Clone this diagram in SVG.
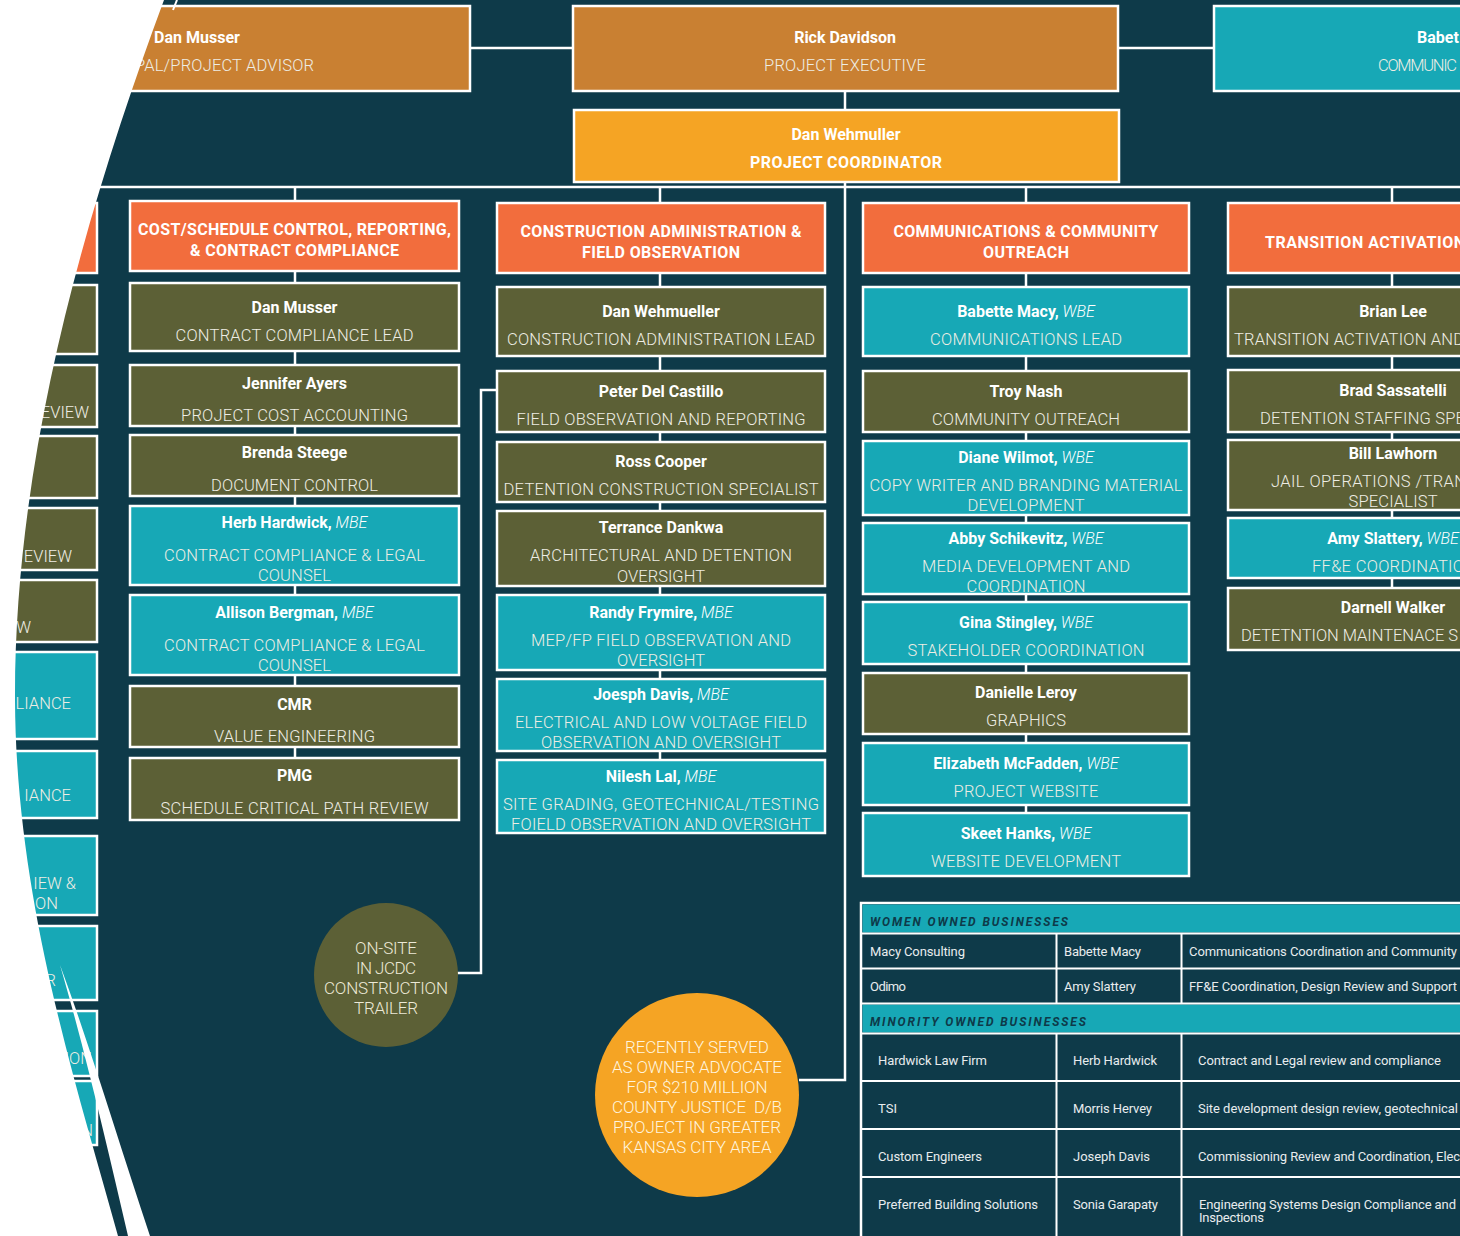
<svg xmlns="http://www.w3.org/2000/svg" width="1460" height="1236" viewBox="0 0 1460 1236">
<style>
.bg{fill:#0E3A49}
.box{stroke:#FFFFFF;stroke-width:2.5}
.olive{fill:#5C6036}
.teal{fill:#17A8B6}
.coral{fill:#F26D3D}
.amber{fill:#F5A424}
.copper{fill:#C98032}
text{font-family:Roboto,"Liberation Sans",sans-serif}
.nm{font-weight:700;font-size:16px;fill:#FFFFFF;text-anchor:middle}
.nms{font-weight:700;font-size:16px;fill:#FFFFFF}
.q{font-weight:300;font-style:italic}
.tt{font-weight:300;font-size:16.5px;fill:#EEEDE4;text-anchor:middle}
.tts{font-weight:300;font-size:16.5px;fill:#EEEDE4}
.tte{font-weight:300;font-size:16.5px;fill:#EEEDE4;text-anchor:end}
.hd{font-weight:700;font-size:16px;fill:#FFFFFF;text-anchor:middle}
.conn{stroke:#FFFFFF;stroke-width:2.5;fill:none}
.ct{font-weight:300;font-size:17px;text-anchor:middle}
.tb{font-weight:400;font-size:13px;fill:#E8ECEE}
.tbh{font-weight:700;font-style:italic;font-size:12px;fill:#0E3A49;letter-spacing:2px}
.grid{stroke:#FFFFFF;stroke-width:2;fill:none}
</style>
<rect class="bg" x="0" y="0" width="1460" height="1236"/>

<g id="connectors">
<line class="conn" x1="470" y1="48" x2="573" y2="48"/>
<line class="conn" x1="1118" y1="48" x2="1214" y2="48"/>
<line class="conn" x1="845" y1="92" x2="845" y2="110"/>
<line class="conn" x1="0" y1="187" x2="1460" y2="187"/>
<polyline class="conn" points="845,182 845,1080 799,1080"/>
<line class="conn" x1="295" y1="187" x2="295" y2="758"/>
<line class="conn" x1="660" y1="187" x2="660" y2="760"/>
<line class="conn" x1="1026" y1="187" x2="1026" y2="813"/>
<line class="conn" x1="1392" y1="187" x2="1392" y2="588"/>
<polyline class="conn" points="457,973 481,973 481,390 497,390"/>
</g>

<g id="top-musser"><rect class="box copper" x="-80" y="6" width="550" height="85"/><text class="nm" x="197" y="43">Dan Musser</text><text class="tte" x="314" y="71" textLength="179">PAL/PROJECT ADVISOR</text></g>
<g id="top-davidson"><rect class="box copper" x="573" y="6" width="545" height="85"/><text class="nm" x="845" y="43">Rick Davidson</text><text class="tt" x="845" y="71" textLength="162">PROJECT EXECUTIVE</text></g>
<g id="top-macy"><rect class="box teal" x="1214" y="6" width="400" height="85"/><text class="nms" x="1417" y="43">Babet</text><text class="tts" x="1378" y="71" textLength="79">COMMUNIC</text></g>
<g id="coordinator"><rect class="box amber" x="574" y="110" width="545" height="72"/><text class="nm" x="846" y="140">Dan Wehmuller</text><text class="hd" x="846" y="168" textLength="192">PROJECT COORDINATOR</text></g>

<g id="col0">
<rect class="box coral" x="-240" y="203" width="337" height="70"/>
<rect class="box olive" x="-240" y="285" width="337" height="69"/>
<rect class="box olive" x="-240" y="365" width="337" height="62"/><text class="tte" x="89" y="418">EVIEW</text>
<rect class="box olive" x="-240" y="436" width="337" height="62"/>
<rect class="box olive" x="-240" y="508" width="337" height="62"/><text class="tte" x="72" y="562">EVIEW</text>
<rect class="box olive" x="-240" y="580" width="337" height="62"/><text class="tte" x="31" y="633">W</text>
<rect class="box teal" x="-240" y="652" width="337" height="87"/><text class="tte" x="71" y="709">LIANCE</text>
<rect class="box teal" x="-240" y="751" width="337" height="67"/><text class="tte" x="71" y="801">IANCE</text>
<rect class="box teal" x="-240" y="836" width="337" height="79"/><text class="tte" x="76" y="889">IEW &amp;</text><text class="tte" x="58" y="909">ON</text>
<rect class="box teal" x="-240" y="926" width="337" height="74"/><text class="tte" x="56" y="986">R</text>
<rect class="box teal" x="-240" y="1011" width="337" height="65"/><text class="tte" x="92" y="1064">ION</text>
<rect class="box teal" x="-240" y="1081" width="337" height="64"/><text class="tte" x="93" y="1136">N</text>
</g>

<g id="h-cost"><rect class="box coral" x="130" y="201" width="329" height="70"/><text class="hd" x="294.5" y="235" textLength="313">COST/SCHEDULE CONTROL, REPORTING,</text><text class="hd" x="294.5" y="256" textLength="209">&amp; CONTRACT COMPLIANCE</text></g>
<g id="c1-musser"><rect class="box olive" x="130" y="283" width="329" height="68"/><text class="nm" x="294.5" y="313">Dan Musser</text><text class="tt" x="294.5" y="341" textLength="238">CONTRACT COMPLIANCE LEAD</text></g>
<g id="c1-ayers"><rect class="box olive" x="130" y="365" width="329" height="61"/><text class="nm" x="294.5" y="389">Jennifer Ayers</text><text class="tt" x="294.5" y="421" textLength="227">PROJECT COST ACCOUNTING</text></g>
<g id="c1-steege"><rect class="box olive" x="130" y="435" width="329" height="61"/><text class="nm" x="294.5" y="458">Brenda Steege</text><text class="tt" x="294.5" y="491" textLength="167">DOCUMENT CONTROL</text></g>
<g id="c1-hardwick"><rect class="box teal" x="130" y="506" width="329" height="79"/><text class="nm" x="294.5" y="528">Herb Hardwick,<tspan class="q"> MBE</tspan></text><text class="tt" x="294.5" y="561" textLength="261">CONTRACT COMPLIANCE &amp; LEGAL</text><text class="tt" x="294.5" y="581" textLength="73">COUNSEL</text></g>
<g id="c1-bergman"><rect class="box teal" x="130" y="595" width="329" height="80"/><text class="nm" x="294.5" y="618">Allison Bergman,<tspan class="q"> MBE</tspan></text><text class="tt" x="294.5" y="651" textLength="261">CONTRACT COMPLIANCE &amp; LEGAL</text><text class="tt" x="294.5" y="671" textLength="73">COUNSEL</text></g>
<g id="c1-cmr"><rect class="box olive" x="130" y="686" width="329" height="61"/><text class="nm" x="294.5" y="710">CMR</text><text class="tt" x="294.5" y="742" textLength="161">VALUE ENGINEERING</text></g>
<g id="c1-pmg"><rect class="box olive" x="130" y="758" width="329" height="62"/><text class="nm" x="294.5" y="781">PMG</text><text class="tt" x="294.5" y="814" textLength="268">SCHEDULE CRITICAL PATH REVIEW</text></g>

<g id="h-construction"><rect class="box coral" x="497" y="203" width="328" height="70"/><text class="hd" x="661" y="237" textLength="281">CONSTRUCTION ADMINISTRATION &amp;</text><text class="hd" x="661" y="258" textLength="158">FIELD OBSERVATION</text></g>
<g id="c2-wehmueller"><rect class="box olive" x="497" y="287" width="328" height="69"/><text class="nm" x="661" y="317">Dan Wehmueller</text><text class="tt" x="661" y="345" textLength="308">CONSTRUCTION ADMINISTRATION LEAD</text></g>
<g id="c2-castillo"><rect class="box olive" x="497" y="371" width="328" height="61"/><text class="nm" x="661" y="397">Peter Del Castillo</text><text class="tt" x="661" y="425" textLength="289">FIELD OBSERVATION AND REPORTING</text></g>
<g id="c2-cooper"><rect class="box olive" x="497" y="442" width="328" height="60"/><text class="nm" x="661" y="467">Ross Cooper</text><text class="tt" x="661" y="495" textLength="315">DETENTION CONSTRUCTION SPECIALIST</text></g>
<g id="c2-dankwa"><rect class="box olive" x="497" y="511" width="328" height="75"/><text class="nm" x="661" y="533">Terrance Dankwa</text><text class="tt" x="661" y="561" textLength="262">ARCHITECTURAL AND DETENTION</text><text class="tt" x="661" y="582" textLength="88">OVERSIGHT</text></g>
<g id="c2-frymire"><rect class="box teal" x="497" y="595" width="328" height="75"/><text class="nm" x="661" y="618">Randy Frymire,<tspan class="q"> MBE</tspan></text><text class="tt" x="661" y="646" textLength="260">MEP/FP FIELD OBSERVATION AND</text><text class="tt" x="661" y="666" textLength="88">OVERSIGHT</text></g>
<g id="c2-davis"><rect class="box teal" x="497" y="679" width="328" height="72"/><text class="nm" x="661" y="700">Joesph Davis,<tspan class="q"> MBE</tspan></text><text class="tt" x="661" y="728" textLength="292">ELECTRICAL AND LOW VOLTAGE FIELD</text><text class="tt" x="661" y="748" textLength="240">OBSERVATION AND OVERSIGHT</text></g>
<g id="c2-lal"><rect class="box teal" x="497" y="760" width="328" height="73"/><text class="nm" x="661" y="782">Nilesh Lal,<tspan class="q"> MBE</tspan></text><text class="tt" x="661" y="810" textLength="316">SITE GRADING, GEOTECHNICAL/TESTING</text><text class="tt" x="661" y="830" textLength="300">FOIELD OBSERVATION AND OVERSIGHT</text></g>

<g id="h-communications"><rect class="box coral" x="863" y="203" width="326" height="70"/><text class="hd" x="1026" y="237" textLength="265">COMMUNICATIONS &amp; COMMUNITY</text><text class="hd" x="1026" y="258" textLength="86">OUTREACH</text></g>
<g id="c3-macy"><rect class="box teal" x="863" y="287" width="326" height="69"/><text class="nm" x="1026" y="317">Babette Macy,<tspan class="q"> WBE</tspan></text><text class="tt" x="1026" y="345" textLength="192">COMMUNICATIONS LEAD</text></g>
<g id="c3-nash"><rect class="box olive" x="863" y="371" width="326" height="61"/><text class="nm" x="1026" y="397">Troy Nash</text><text class="tt" x="1026" y="425" textLength="188">COMMUNITY OUTREACH</text></g>
<g id="c3-wilmot"><rect class="box teal" x="863" y="441" width="326" height="74"/><text class="nm" x="1026" y="463">Diane Wilmot,<tspan class="q"> WBE</tspan></text><text class="tt" x="1026" y="491" textLength="313">COPY WRITER AND BRANDING MATERIAL</text><text class="tt" x="1026" y="511" textLength="117">DEVELOPMENT</text></g>
<g id="c3-schikevitz"><rect class="box teal" x="863" y="523" width="326" height="71"/><text class="nm" x="1026" y="544">Abby Schikevitz,<tspan class="q"> WBE</tspan></text><text class="tt" x="1026" y="572" textLength="208">MEDIA DEVELOPMENT AND</text><text class="tt" x="1026" y="592" textLength="119">COORDINATION</text></g>
<g id="c3-stingley"><rect class="box teal" x="863" y="602" width="326" height="62"/><text class="nm" x="1026" y="628">Gina Stingley,<tspan class="q"> WBE</tspan></text><text class="tt" x="1026" y="656" textLength="237">STAKEHOLDER COORDINATION</text></g>
<g id="c3-leroy"><rect class="box olive" x="863" y="673" width="326" height="61"/><text class="nm" x="1026" y="698">Danielle Leroy</text><text class="tt" x="1026" y="726" textLength="80">GRAPHICS</text></g>
<g id="c3-mcfadden"><rect class="box teal" x="863" y="743" width="326" height="62"/><text class="nm" x="1026" y="769">Elizabeth McFadden,<tspan class="q"> WBE</tspan></text><text class="tt" x="1026" y="797" textLength="145">PROJECT WEBSITE</text></g>
<g id="c3-hanks"><rect class="box teal" x="863" y="813" width="326" height="63"/><text class="nm" x="1026" y="839">Skeet Hanks,<tspan class="q"> WBE</tspan></text><text class="tt" x="1026" y="867" textLength="190">WEBSITE DEVELOPMENT</text></g>

<g id="h-transition"><rect class="box coral" x="1228" y="203" width="330" height="70"/><text class="nms" x="1265" y="248" textLength="200">TRANSITION ACTIVATION</text></g>
<g id="c4-lee"><rect class="box olive" x="1228" y="287" width="330" height="69"/><text class="nm" x="1393" y="317">Brian Lee</text><text class="tts" x="1234" y="345" textLength="230">TRANSITION ACTIVATION AND</text></g>
<g id="c4-sassatelli"><rect class="box olive" x="1228" y="370" width="330" height="62"/><text class="nm" x="1393" y="396">Brad Sassatelli</text><text class="tts" x="1260" y="424" textLength="205">DETENTION STAFFING SPE</text></g>
<g id="c4-lawhorn"><rect class="box olive" x="1228" y="440" width="330" height="70"/><text class="nm" x="1393" y="459">Bill Lawhorn</text><text class="tts" x="1271" y="487" textLength="195">JAIL OPERATIONS /TRAN</text><text class="tt" x="1393" y="507" textLength="89">SPECIALIST</text></g>
<g id="c4-slattery"><rect class="box teal" x="1228" y="518" width="330" height="60"/><text class="nm" x="1393" y="544">Amy Slattery,<tspan class="q"> WBE</tspan></text><text class="tts" x="1312" y="572" textLength="152">FF&amp;E COORDINATIO</text></g>
<g id="c4-walker"><rect class="box olive" x="1228" y="588" width="330" height="62"/><text class="nm" x="1393" y="613">Darnell Walker</text><text class="tts" x="1241" y="641" textLength="217">DETETNTION MAINTENACE S</text></g>

<g id="circle-trailer"><circle cx="386" cy="975" r="72" fill="#5C6036"/>
<text class="ct" fill="#ECE9D6" x="386" y="954" textLength="62">ON-SITE</text>
<text class="ct" fill="#ECE9D6" x="386" y="974" textLength="60">IN JCDC</text>
<text class="ct" fill="#ECE9D6" x="386" y="994" textLength="124">CONSTRUCTION</text>
<text class="ct" fill="#ECE9D6" x="386" y="1014" textLength="64">TRAILER</text></g>

<g id="circle-advocate"><circle cx="697" cy="1095" r="102" fill="#F5A424"/>
<text class="ct" fill="#FFF4DE" x="697" y="1053" textLength="144">RECENTLY SERVED</text>
<text class="ct" fill="#FFF4DE" x="697" y="1073" textLength="170">AS OWNER ADVOCATE</text>
<text class="ct" fill="#FFF4DE" x="697" y="1093" textLength="141">FOR $210 MILLION</text>
<text class="ct" fill="#FFF4DE" x="697" y="1113" textLength="170">COUNTY JUSTICE&#160; D/B</text>
<text class="ct" fill="#FFF4DE" x="697" y="1133" textLength="168">PROJECT IN GREATER</text>
<text class="ct" fill="#FFF4DE" x="697" y="1153" textLength="149">KANSAS CITY AREA</text></g>

<g id="table">
<rect x="861" y="903" width="640" height="400" fill="#0E3A49" stroke="#FFFFFF" stroke-width="2.5"/>
<rect x="862.5" y="904.5" width="600" height="28" fill="#17A8B6"/>
<rect x="862.5" y="1004.5" width="600" height="28" fill="#17A8B6"/>
<path class="grid" d="M861,933.5H1460M861,968.5H1460M861,1003.5H1460M861,1033.5H1460M861,1081H1460M861,1129H1460M861,1177H1460M1056.5,933.5V1003.5M1181.5,933.5V1003.5M1056.5,1033.5V1236M1181.5,1033.5V1236"/>
<text class="tbh" x="870" y="926" textLength="200">WOMEN OWNED BUSINESSES</text>
<text class="tbh" x="870" y="1026" textLength="218">MINORITY OWNED BUSINESSES</text>
<text class="tb" x="870" y="956" textLength="95">Macy Consulting</text>
<text class="tb" x="1064" y="956" textLength="77">Babette Macy</text>
<text class="tb" x="1189" y="956" textLength="268">Communications Coordination and Community</text>
<text class="tb" x="870" y="991" textLength="36" font-weight="300">Odimo</text>
<text class="tb" x="1064" y="991" textLength="72">Amy Slattery</text>
<text class="tb" x="1189" y="991" textLength="268">FF&amp;E Coordination, Design Review and Support</text>
<text class="tb" x="878" y="1065" textLength="109">Hardwick Law Firm</text>
<text class="tb" x="1073" y="1065" textLength="84">Herb Hardwick</text>
<text class="tb" x="1198" y="1065" textLength="243">Contract and Legal review and compliance</text>
<text class="tb" x="878" y="1113" textLength="19">TSI</text>
<text class="tb" x="1073" y="1113" textLength="79">Morris Hervey</text>
<text class="tb" x="1198" y="1113" textLength="260">Site development design review, geotechnical</text>
<text class="tb" x="878" y="1161" textLength="104">Custom Engineers</text>
<text class="tb" x="1073" y="1161" textLength="77">Joseph Davis</text>
<text class="tb" x="1198" y="1161" textLength="262">Commissioning Review and Coordination, Elec</text>
<text class="tb" x="878" y="1209" textLength="160">Preferred Building Solutions</text>
<text class="tb" x="1073" y="1209" textLength="85">Sonia Garapaty</text>
<text class="tb" x="1199" y="1209" textLength="257">Engineering Systems Design Compliance and</text>
<text class="tb" x="1199" y="1222" textLength="65">Inspections</text>
</g>

<g id="left-arc">
<path d="M0,0 H164 C90,200 14,450 15,700 C16,900 75,1080 118,1236 H0 Z" fill="#FFFFFF"/>
<path d="M60,965 C88,1040 118,1140 150,1236 H128 C108,1150 85,1050 60,965 Z" fill="#FFFFFF"/>
<path d="M177,0 L173,10" stroke="#FFFFFF" stroke-width="2" fill="none"/>
</g>
</svg>
